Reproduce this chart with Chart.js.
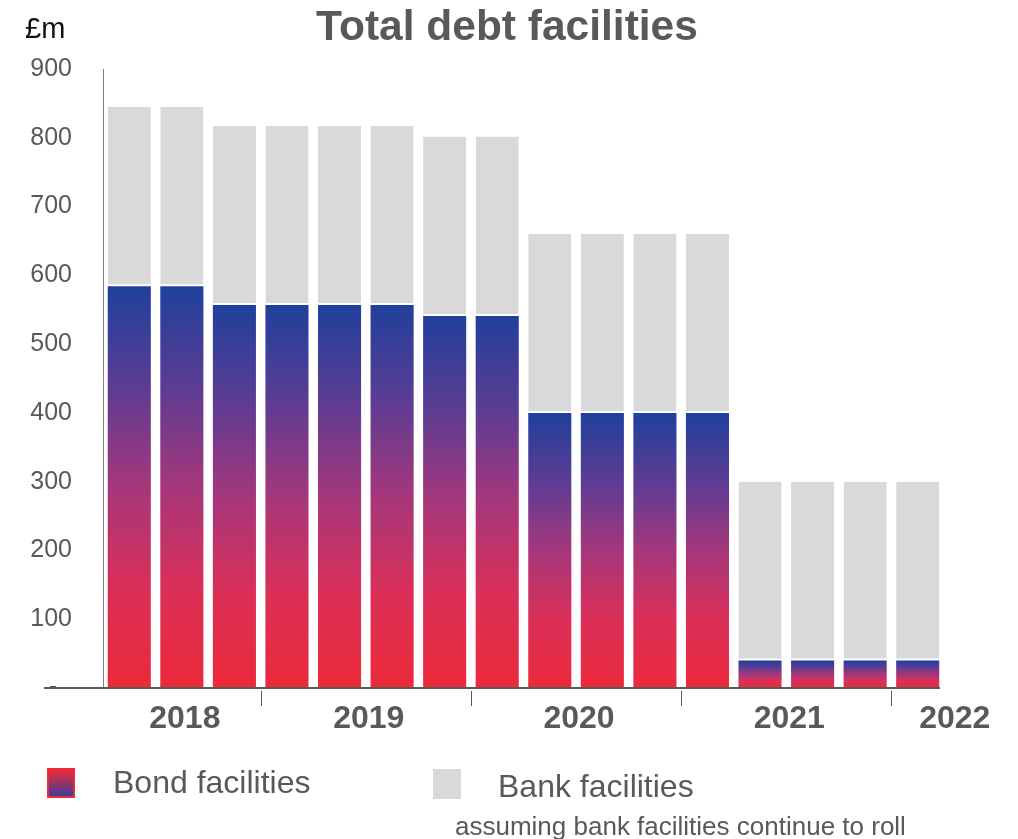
<!DOCTYPE html>
<html>
<head>
<meta charset="utf-8">
<script src="https://cdn.jsdelivr.net/npm/chart.js@4"></script>
<style>
  body { margin: 0; background: #fff; font-family: 'Liberation Sans', Arial, sans-serif; }
  #wrap { position: relative; width: 1018px; height: 839px; overflow: hidden; }
  #chart { position: absolute; left: 0; top: 0; }
  .txt { position: absolute; white-space: nowrap; color: #595959; }
  #title { left: 0; width: 1014px; text-align: center; top: 2px; font-size: 42.5px; font-weight: bold; }
  #unit { left: 25px; top: 12px; font-size: 29px; color: #111; }
  .sw { position: absolute; width: 28px; height: 30px; }
  #swBond { left: 47px; top: 768px; background: linear-gradient(to bottom, #ee2a3a, #3b3d98); box-sizing: border-box; border: 2px solid #ee2a3a; }
  #swBank { left: 433px; top: 769px; background: #d9d9d9; }
  #lgBond { left: 113px; top: 764px; font-size: 32px; }
  #lgBank { left: 498px; top: 768px; font-size: 32px; }
  #lgNote { left: 455px; top: 811px; font-size: 26px; }
</style>
</head>
<body>
<div id="wrap">
  <canvas id="chart" width="1018" height="839"></canvas>
  <div class="txt" id="title">Total debt facilities</div>
  <div class="txt" id="unit">£m</div>
  <div class="sw" id="swBond"></div>
  <div class="txt" id="lgBond">Bond facilities</div>
  <div class="sw" id="swBank"></div>
  <div class="txt" id="lgBank">Bank facilities</div>
  <div class="txt" id="lgNote">assuming bank facilities continue to roll</div>
</div>
<script>
// years and how many bars fall under each one
const YEARS       = ['2018', '2019', '2020', '2021', '2022'];
const YEAR_SIZES  = [3, 4, 4, 4, 1];

// one label per bar (16 periods)
const CATEGORIES = YEARS.flatMap((y, i) => Array(YEAR_SIZES[i]).fill(y));

// £m
const BOND = [584, 584, 557, 557, 557, 557, 541, 541, 400, 400, 400, 400, 40, 40, 40, 40];
const BANK = [261, 261, 260, 260, 260, 260, 261, 261, 260, 260, 260, 260, 260, 260, 260, 260];

const Y_TICKS = [0, 100, 200, 300, 400, 500, 600, 700, 800, 900];

const TEXT_GREY = '#595959';
const BANK_GREY = '#d9d9d9';

// вертикальный градиент на каждый столбик облигаций: красный снизу, синий сверху
function bondFill(ctx) {
    const chart = ctx.chart;
    if (!chart.chartArea || ctx.raw == null) return '#e8283c';
    const y = chart.scales.y;
    const base = y.getPixelForValue(0);
    const top  = y.getPixelForValue(ctx.raw);
    const g = chart.ctx.createLinearGradient(0, base, 0, top);
    g.addColorStop(0,    '#ec2a39');
    g.addColorStop(0.25, '#da2f58');
    g.addColorStop(0.5,  '#a5377b');
    g.addColorStop(0.75, '#5c3c93');
    g.addColorStop(1,    '#1f409c');
    return g;
}

// оси, разделители годов, подписи годов и «-» для нуля
const axisDecor = {
    id: 'axisDecor',
    afterDatasetsDraw(chart) {
        const { ctx, chartArea: a, scales: { x } } = chart;
        ctx.save();

        ctx.strokeStyle = '#808080';
        ctx.lineWidth = 1;
        ctx.beginPath();
        ctx.moveTo(a.left + 0.5, a.top);
        ctx.lineTo(a.left + 0.5, a.bottom);
        ctx.stroke();

        ctx.strokeStyle = TEXT_GREY;
        ctx.lineWidth = 2;
        ctx.beginPath();
        ctx.moveTo(44, a.bottom);
        ctx.lineTo(a.right - 4, a.bottom);
        ctx.stroke();

        ctx.fillStyle = TEXT_GREY;
        ctx.font = '25px "Liberation Sans", Arial, sans-serif';
        ctx.textAlign = 'center';
        ctx.textBaseline = 'middle';
        ctx.fillText('-', 53, a.bottom - 1);

        ctx.lineWidth = 1;
        ctx.font = 'bold 32px "Liberation Sans", Arial, sans-serif';

        let start = 0;
        YEARS.forEach((yr, i) => {
            const end = start + YEAR_SIZES[i] - 1;
            const mid = (x.getPixelForValue(start) + x.getPixelForValue(end)) / 2;
            const last = i === YEARS.length - 1;
            ctx.fillText(yr, last ? mid + 37 : mid + 3, a.bottom + 31);
            if (start > 0) {
                const bx = Math.round((x.getPixelForValue(start - 1) + x.getPixelForValue(start)) / 2) + 0.5;
                ctx.beginPath();
                ctx.moveTo(bx, a.bottom + 3);
                ctx.lineTo(bx, a.bottom + 18);
                ctx.stroke();
            }
            start = end + 1;
        });
        ctx.restore();
    }
};

new Chart(document.getElementById('chart'), {
    type: 'bar',
    data: {
        labels: CATEGORIES,
        datasets: [
            {
                label: 'Bond facilities',
                data: BOND,
                backgroundColor: bondFill,
                borderWidth: 0,
                barPercentage: 0.82,
                categoryPercentage: 1
            },
            {
                label: 'Bank facilities',
                data: BANK,
                backgroundColor: BANK_GREY,
                borderColor: '#ffffff',
                borderWidth: { top: 0, left: 0, right: 0, bottom: 2 },
                borderSkipped: false,
                barPercentage: 0.82,
                categoryPercentage: 1
            }
        ]
    },
    options: {
        responsive: false,
        devicePixelRatio: 1,
        animation: false,
        layout: { padding: { top: 69, right: 74, bottom: 0, left: 0 } },
        plugins: { legend: { display: false }, tooltip: { enabled: false }, title: { display: false } },
        scales: {
            x: {
                stacked: true,
                grid: { display: false },
                border: { display: false },
                ticks: { display: false },
                afterFit(s) { s.height = 151; }
            },
            y: {
                stacked: true,
                min: 0,
                max: 900,
                afterFit(s) { s.width = 103; },
                afterBuildTicks(s) { s.ticks = Y_TICKS.map(v => ({ value: v })); },
                grid: { display: false, drawTicks: false },
                border: { display: false },
                ticks: {
                    padding: 31,
                    color: TEXT_GREY,
                    font: { family: '"Liberation Sans", Arial, sans-serif', size: 25 },
                    callback: v => v === 0 ? '' : String(v)
                }
            }
        }
    },
    plugins: [axisDecor]
});
</script>
</body>
</html>
